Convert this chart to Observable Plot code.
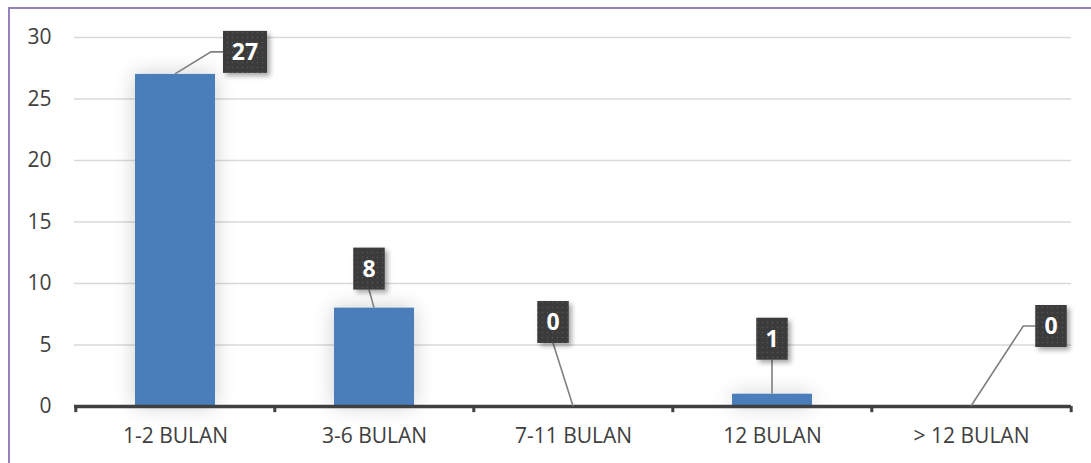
<!DOCTYPE html>
<html><head><meta charset="utf-8">
<script src="https://cdn.jsdelivr.net/npm/d3@7"></script>
<script src="https://cdn.jsdelivr.net/npm/@observablehq/plot@0.6"></script>
<style>
body{margin:0;background:#fff;overflow:hidden;width:1091px;height:463px}
#frame{position:absolute;left:8px;top:7px;width:1200px;height:600px;border-top:2px solid #9480bd;border-left:2px solid #9480bd;}
#chart{position:absolute;left:0;top:0}
</style></head><body><div id="frame"></div><div id="chart"></div>
<script>
const categories = ["1-2 BULAN","3-6 BULAN","7-11 BULAN","12 BULAN","> 12 BULAN"];
const values = [27, 8, 0, 1, 0];
const yTicks = [0, 5, 10, 15, 20, 25, 30];
// label placement offsets in px relative to the bar top (layout only)
const labelOffsets = [[70,-22],[-5,-39],[-20,-84],[0,-55],[80,-80]];

const data = categories.map((c,i)=>({category:c, value:values[i]}));
const W = 1091, H = 463, mL = 74, mR = 20, mT = 37, mB = 57;
const step = (W - mL - mR) / categories.length;
const font = "'Open Sans', sans-serif";

const plot = Plot.plot({
  width: W, height: H,
  marginLeft: mL, marginRight: mR, marginTop: mT, marginBottom: mB,
  style: {fontFamily: font, fontSize: "21px", color: "#404040", background: "transparent", overflow: "visible"},
  x: {domain: categories, paddingInner: 0.6, paddingOuter: 0.3, label: null},
  y: {domain: [0, 30], label: null},
  marks: [
    Plot.gridY(yTicks.filter(t => t > 0), {stroke: "#d9d9d9", strokeOpacity: 1, strokeWidth: 1.4}),
    Plot.axisY(yTicks, {tickSize: 0, tickPadding: 23, fontSize: 21, fill: "#404040", label: null}),
    Plot.axisX({tickSize: 0, tickPadding: 22, fontSize: 21, fill: "#404040", label: null}),
    Plot.barY(data, {x: "category", y: "value", fill: "#4a7ebb"}),
    Plot.ruleX(categories, {x: d => d, y1: 0, y2: -0.5, dx: -step/2, stroke: "#404040", strokeWidth: 3}),
    Plot.ruleX(categories.slice(-1), {x: d => d, y1: 0, y2: -0.5, dx: step/2, stroke: "#404040", strokeWidth: 3}),
    Plot.ruleY([0], {stroke: "#404040", strokeWidth: 3.5})
  ]
});
document.getElementById("chart").appendChild(plot);

const svg = d3.select(plot);
const defs = svg.insert("defs", ":first-child");
const pat = defs.append("pattern").attr("id","dots").attr("width",5).attr("height",5).attr("patternUnits","userSpaceOnUse");
pat.append("rect").attr("width",5).attr("height",5).attr("fill","#3a3a3a");
pat.append("circle").attr("cx",2.5).attr("cy",2.5).attr("r",0.8).attr("fill","#575757");
const sh = defs.append("filter").attr("id","lblShadow").attr("x","-30%").attr("y","-30%").attr("width","170%").attr("height","170%");
sh.append("feDropShadow").attr("dx",3).attr("dy",3).attr("stdDeviation",2.5).attr("flood-color","#000").attr("flood-opacity",0.35);
const glow = defs.append("filter").attr("id","barGlow").attr("x","-50%").attr("y","-50%").attr("width","200%").attr("height","200%");
glow.append("feDropShadow").attr("dx",0).attr("dy",0).attr("stdDeviation",10).attr("flood-color","#000").attr("flood-opacity",0.2);
svg.selectAll("g[aria-label='bar']").attr("filter","url(#barGlow)");

const sx = plot.scale("x"), sy = plot.scale("y");
const bw = sx.bandwidth;
const layer = svg.append("g");
data.forEach((d,i) => {
  const bx = sx.apply(d.category) + bw/2;
  const by = sy.apply(d.value);
  const [ox, oy] = labelOffsets[i];
  const cx = bx + ox, cy = by + oy;
  const txt = String(d.value);
  const w = txt.length * 12.5 + 19, h = 42;
  let path;
  if (Math.abs(ox) > w/2 + 8) {
    const edge = ox > 0 ? cx - w/2 : cx + w/2;
    const elbow = ox > 0 ? edge - 12 : edge + 12;
    path = `M${bx},${by}L${elbow},${cy}L${edge},${cy}`;
  } else {
    path = `M${bx},${by}L${cx},${cy + h/2}`;
  }
  layer.append("path").attr("d", path).attr("fill","none").attr("stroke","#7f7f7f").attr("stroke-width",1.6);
  layer.append("rect").attr("x", cx - w/2).attr("y", cy - h/2).attr("width", w).attr("height", h)
    .attr("fill","url(#dots)").attr("filter","url(#lblShadow)");
  layer.append("text").attr("x", cx).attr("y", cy).attr("dy","0.36em").attr("text-anchor","middle")
    .attr("fill","#fff").attr("font-weight","bold").attr("font-size",23).attr("font-family",font).text(txt);
});
</script></body></html>
